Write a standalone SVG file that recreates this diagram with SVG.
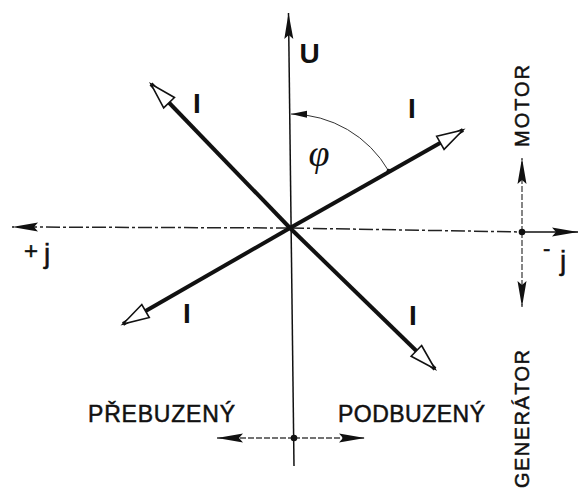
<svg xmlns="http://www.w3.org/2000/svg" width="579" height="492" viewBox="0 0 579 492">
<style>
  .ax { stroke:#111; stroke-width:1.5; fill:none; }
  .dash { stroke:#222; stroke-width:1.5; fill:none; stroke-dasharray:14 3 3 3; }
  .dot { stroke:#444; stroke-width:1.3; fill:none; stroke-dasharray:6 2; }
  .vec { stroke:#111; stroke-width:4; fill:none; }
  .lbl { font-family:"Liberation Sans", Arial, sans-serif; fill:#111; stroke:#111; stroke-width:0.5; }
  .bar { font-family:"Liberation Sans", Arial, sans-serif; font-weight:bold; font-size:28px; fill:#111; text-anchor:middle; }
</style>
<defs>
  <marker id="fa" markerUnits="userSpaceOnUse" markerWidth="28" markerHeight="10" refX="26" refY="4.5" orient="auto" overflow="visible">
    <path d="M0,0 L26,4.5 L0,9 L4,4.5 z" fill="#111"/>
  </marker>
  <marker id="oa" markerUnits="userSpaceOnUse" markerWidth="30" markerHeight="16" refX="26" refY="7.5" orient="auto" overflow="visible">
    <path d="M0,0 L26,7.5 L0,15 z" fill="#fff" stroke="#111" stroke-width="1.6" stroke-linejoin="miter"/>
  </marker>
  <marker id="sa" markerUnits="userSpaceOnUse" markerWidth="18" markerHeight="8" refX="16" refY="3.5" orient="auto" overflow="visible">
    <path d="M0,0 L16,3.5 L0,7 z" fill="#111"/>
  </marker>
</defs>

<g id="connectors">
  <line id="axis-u" class="ax" x1="294" y1="466" x2="288.5" y2="13" marker-end="url(#fa)"/>
  <line id="axis-left" class="dash" x1="290" y1="228" x2="12" y2="227" marker-end="url(#fa)"/>
  <line id="axis-right" class="dash" x1="290" y1="228" x2="522" y2="232"/>
  <line id="i-ul" class="vec" x1="290" y1="228" x2="151" y2="84" marker-end="url(#oa)"/>
  <line id="i-ur" class="vec" x1="290" y1="228" x2="463" y2="130" marker-end="url(#oa)"/>
  <line id="i-ll" class="vec" x1="290" y1="228" x2="123" y2="324" marker-end="url(#oa)"/>
  <line id="i-lr" class="vec" x1="290" y1="228" x2="435" y2="369" marker-end="url(#oa)"/>
  <path id="phi-arc" d="M388.7,171 A114,114 0 0 0 291,114" fill="none" stroke="#333" stroke-width="1" marker-end="url(#sa)"/>
  <circle cx="388.7" cy="171" r="2.2" fill="#111"/>
  <line class="ax" x1="522" y1="232" x2="578" y2="232" marker-end="url(#fa)"/>
  <line class="dot" x1="522" y1="232" x2="522" y2="158" marker-end="url(#fa)"/>
  <line class="dot" x1="522" y1="232" x2="522" y2="307" marker-end="url(#fa)"/>
  <circle cx="522" cy="232" r="3.3" fill="#111"/>
  <line class="dot" x1="294" y1="438" x2="217" y2="438" marker-end="url(#fa)"/>
  <line class="dot" x1="294" y1="438" x2="365" y2="438" marker-end="url(#fa)"/>
  <circle cx="294" cy="438" r="3.3" fill="#111"/>
</g>

<g id="label-u"><text x="309.5" y="63" font-family="Liberation Sans, Arial, sans-serif" font-size="28" font-weight="bold" fill="#111" text-anchor="middle">U</text></g>
<g id="label-i-ul"><text class="bar" x="197" y="113">I</text></g>
<g id="label-i-ur"><text class="bar" x="412" y="118">I</text></g>
<g id="label-i-ll"><text class="bar" x="187" y="323">I</text></g>
<g id="label-i-lr"><text class="bar" x="413" y="325">I</text></g>
<g id="label-phi"><text x="319" y="166" font-family="Liberation Serif, serif" font-style="italic" font-size="38" fill="#111" text-anchor="middle">φ</text></g>
<g id="label-plus-j"><text class="lbl"><tspan x="24" y="259" font-size="24">+</tspan><tspan x="44" y="263" font-size="28">j</tspan></text></g>
<g id="label-minus-j"><text class="lbl"><tspan x="543" y="256" font-size="22">-</tspan><tspan x="560" y="270" font-size="28">j</tspan></text></g>
<g id="label-motor"><text class="lbl" font-size="20" transform="translate(529,147) rotate(-90)" textLength="82" lengthAdjust="spacing">MOTOR</text></g>
<g id="label-generator"><text class="lbl" font-size="20" transform="translate(529,488) rotate(-90)" textLength="138" lengthAdjust="spacing">GENERÁTOR</text></g>
<g id="label-prebuzeny"><text class="lbl" x="88" y="422" font-size="23" textLength="147" lengthAdjust="spacing">PŘEBUZENÝ</text></g>
<g id="label-podbuzeny"><text class="lbl" x="338" y="422" font-size="23" textLength="147" lengthAdjust="spacing">PODBUZENÝ</text></g>
</svg>
